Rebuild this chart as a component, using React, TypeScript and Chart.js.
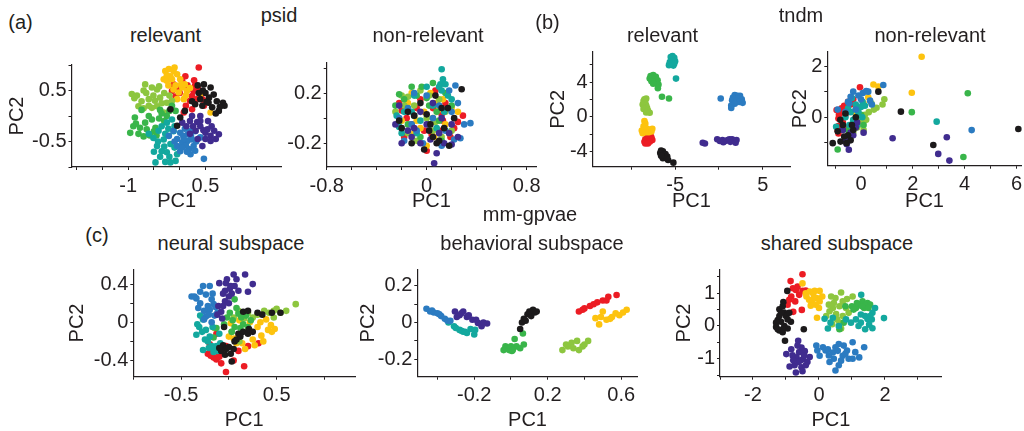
import React, { useEffect, useRef } from 'react';
import { Chart, registerables } from 'chart.js';

Chart.register(...registerables);

type Pt = [number, number];

const FONT = '"Liberation Sans", Arial, Helvetica, sans-serif';
const INK = '#231f20';

// class order: red, yellow, light green, green, teal, blue, purple, black
const CLASS_COLORS = ['#ec1c24', '#fdc30f', '#8dc63f', '#39b54a', '#13a89e', '#2b7bc1', '#402c8f', '#1c1a1b'];

// ---------- (a) psid ----------
const psidRelevant: Pt[][] = [
  [[0.37,0.95],[0.11,0.78],[-0.05,0.56],[0.18,0.54],[0.27,0.49],[0.40,0.46],[-0.15,0.49],[-0.12,0.62],[0.24,0.39],[0.34,0.33],[0.47,0.2],[0.24,0.13],[0.08,0.07],[0.43,0.43],[0.05,0.68],[0.2,0.3],[0.3,0.6],
   [0.15,0.6],[0.0,0.45],[0.35,0.55],[0.12,0.2],[-0.08,0.38],[0.28,0.7],[0.45,0.32]],
  [[-0.28,0.88],[-0.21,0.92],[-0.12,0.88],[-0.31,0.72],[-0.25,0.69],[-0.15,0.72],[-0.05,0.82],[0.01,0.72],[0.05,0.56],[-0.02,0.46],[-0.05,0.33],[0.08,0.33],[0.14,0.49],[0.40,0.43],[0.60,0.07],[-0.18,0.78],[0.1,0.62],[-0.08,0.6],
   [-0.25,0.8],[-0.1,0.95],[0.03,0.62],[-0.22,0.6],[0.12,0.4],[-0.12,0.52],[0.2,0.55]],
  [[-0.93,0.43],[-0.83,0.4],[-0.67,0.62],[-0.54,0.56],[-0.44,0.52],[-0.51,0.4],[-0.38,0.36],[-0.6,0.33],[-0.74,0.29],[-0.44,0.19],[-0.25,0.26],[-0.31,0.07],[-0.54,0.16],[-0.8,0.19],[-0.65,0.45],[-0.2,0.4],[-0.35,0.25],
   [-0.7,0.5],[-0.88,0.35],[-0.48,0.3],[-0.3,0.45],[-0.6,0.2],[-0.15,0.3],[-0.4,0.58],[-0.7,0.15]],
  [[-0.96,-0.33],[-0.9,-0.2],[-0.87,-0.03],[-0.77,-0.23],[-0.64,-0.26],[-0.74,0.12],[-0.54,-0.07],[-0.47,-0.23],[-0.58,-0.38],[-0.25,0.0],[-0.08,0.1],[-0.38,0.12],[-0.67,-0.13],[-0.15,0.2],[-0.4,-0.05],[-0.8,-0.35],
   [-0.7,-0.4],[-0.5,-0.3],[-0.3,-0.1],[-0.6,0.0],[-0.85,-0.15],[-0.35,0.05],[-0.2,0.1],[-0.45,-0.38]],
  [[-0.47,-0.91],[-0.28,-0.9],[-0.18,-0.91],[-0.08,-0.88],[-0.25,-0.71],[-0.35,-0.69],[-0.44,-0.59],[-0.51,-0.43],[-0.41,-0.29],[-0.35,-0.2],[-0.25,-0.13],[-0.15,-0.07],[-0.31,-0.46],[-0.18,-0.55],[-0.05,-0.75],[-0.6,-0.35],[-0.12,-0.3],
   [-0.38,-0.8],[-0.2,-0.8],[-0.42,-0.5],[-0.28,-0.35],[-0.22,-0.25],[-0.1,-0.2],[-0.3,-0.6],[-0.5,-0.7],[-0.1,-0.62]],
  [[-0.12,-0.29],[0.01,-0.33],[0.07,-0.39],[0.16,-0.36],[0.24,-0.46],[0.15,-0.49],[0.05,-0.52],[-0.05,-0.59],[0.01,-0.69],[0.18,-0.65],[0.27,-0.59],[0.21,-0.75],[0.47,-0.84],[0.4,-0.42],[-0.21,-0.39],[0.1,-0.25],[0.3,-0.3],[0.12,-0.58],
   [-0.05,-0.45],[0.08,-0.45],[0.22,-0.4],[0.32,-0.5],[0.05,-0.62],[0.14,-0.7],[-0.1,-0.5],[0.3,-0.68],[0.2,-0.3]],
  [[0.24,0.0],[0.4,-0.1],[0.13,-0.2],[0.26,-0.2],[0.40,-0.2],[0.5,-0.33],[0.6,-0.39],[0.76,-0.36],[0.67,-0.29],[0.6,-0.49],[0.44,-0.59],[0.05,-0.13],[0.4,0.0],[0.54,-0.26],[0.31,-0.29],[0.55,-0.1],
   [0.2,-0.1],[0.34,-0.12],[0.46,-0.28],[0.7,-0.45],[0.35,-0.45],[0.5,-0.45],[0.62,-0.2],[0.2,-0.35]],
  [[0.47,0.62],[0.6,0.56],[0.37,0.45],[0.4,0.33],[0.57,0.36],[0.72,0.29],[0.84,0.26],[0.87,0.2],[0.76,0.1],[0.56,0.26],[0.3,0.23],[-0.18,0.13],[-0.05,-0.19],[0.01,-0.03],[0.24,0.29],[0.63,0.17],[0.5,0.45],
   [0.45,0.5],[0.52,0.28],[0.66,0.42],[0.78,0.18],[0.44,0.2],[0.35,0.6],[0.7,0.05],[0.1,0.1]],
];

const psidNonRelevant: Pt[][] = [
  [[0.0,-0.26],[0.29,0.02],[-0.2,0.06],[-0.12,-0.05],[0.05,0.08],[0.15,0.12],[0.1,-0.1],[0.22,-0.08],[-0.05,0.15],[0.13,-0.02],[-0.16,0.0],[0.04,-0.13],[0.25,-0.03],[-0.08,0.08],
   [-0.18,-0.15],[0.07,0.22],[0.19,-0.15],[-0.02,-0.1],[0.12,0.03],[-0.22,0.12]],
  [[-0.05,-0.08],[0.1,0.07],[0.2,0.08],[-0.15,0.12],[0.03,0.2],[-0.1,-0.12],[0.15,-0.05],[0.06,-0.15],[-0.02,0.05],[0.18,-0.12],[-0.2,-0.02],[0.08,0.12],
   [0.0,-0.22],[0.13,0.15],[-0.08,-0.02],[0.25,0.05],[-0.12,0.2],[0.05,0.0]],
  [[-0.2,0.18],[-0.15,0.17],[-0.22,-0.03],[0.02,0.18],[0.1,0.15],[-0.08,-0.18],[0.05,-0.1],[-0.1,0.1],[0.12,-0.15],[-0.18,0.1],[0.0,0.0],
   [-0.05,0.22],[0.2,-0.1],[-0.15,-0.12],[0.15,0.05],[-0.25,0.05],[0.07,-0.03]],
  [[-0.04,0.25],[-0.22,0.19],[-0.12,0.25],[-0.18,0.15],[0.0,0.16],[-0.1,0.02],[0.08,0.05],[0.15,0.2],[-0.05,-0.15],[0.1,-0.02],[-0.25,0.1],[0.02,-0.05],
   [0.05,0.28],[-0.15,-0.05],[0.2,0.1],[-0.08,0.18],[0.12,-0.18],[0.02,0.1]],
  [[0.12,0.39],[0.13,0.31],[0.11,0.27],[0.12,0.22],[0.15,0.27],[-0.24,0.02],[-0.22,-0.07],[0.17,0.18],[-0.12,0.05],[0.05,0.1],[-0.05,-0.02],[0.08,-0.08],[-0.18,0.05],[0.2,0.15],[0.1,0.25],
   [-0.1,0.18],[0.0,0.25],[-0.2,-0.12],[0.14,0.05],[-0.08,-0.12]],
  [[0.23,0.26],[0.35,-0.04],[0.27,-0.16],[-0.15,0.08],[0.1,0.1],[0.2,0.05],[-0.08,-0.1],[0.05,0.0],[0.22,-0.17],[-0.12,-0.05],[0.3,-0.05],[-0.03,-0.2],[0.15,-0.1],[0.18,0.22],
   [-0.22,0.0],[0.0,0.18],[-0.1,0.2],[0.12,-0.22],[0.25,0.12],[-0.18,-0.18]],
  [[0.06,-0.36],[0.08,-0.28],[0.2,-0.21],[-0.22,0.1],[-0.1,-0.08],[0.0,-0.05],[-0.15,-0.1],[0.1,-0.12],[0.05,0.12],[0.14,-0.2],[-0.05,-0.2],[0.2,-0.05],[-0.12,-0.15],[0.03,-0.17],
   [-0.2,-0.2],[0.12,0.0],[-0.25,-0.05],[0.18,-0.12],[-0.05,0.05],[0.25,-0.15]],
  [[0.28,0.23],[-0.2,-0.08],[0.0,0.03],[-0.1,0.02],[0.12,0.08],[0.05,-0.15],[0.17,0.08],[-0.05,0.12],[0.1,-0.18],[-0.15,0.05],[0.22,0.0],[0.02,-0.1],[0.08,-0.2],
   [-0.02,-0.25],[0.14,-0.08],[-0.12,-0.2],[0.07,0.18],[-0.22,-0.02],[0.18,-0.22],[0.03,-0.05]],
];

// ---------- (b) tndm ----------
const tndmRelevant: Pt[][] = [
  [[-8.0,-2.1],[-7.8,-2.2],[-8.2,-2.4],[-7.7,-2.4],[-8.4,-2.6],[-8.0,-2.6],[-7.6,-2.7],[-8.5,-2.9],[-8.2,-2.9],[-7.9,-2.9],[-8.4,-3.1],[-8.1,-3.1]],
  [[-8.5,-0.5],[-8.4,-0.8],[-8.6,-1.1],[-8.8,-1.6],[-8.5,-1.5],[-8.2,-1.4],[-7.9,-1.5],[-7.6,-1.4],[-8.0,-1.8],[-8.3,-1.8],[-8.7,-1.9],[-7.7,-1.7]],
  [[-8.5,2.0],[-8.3,2.1],[-8.6,1.8],[-8.4,1.6],[-8.7,1.4],[-8.3,1.3],[-8.5,1.1],[-8.2,1.0],[-8.6,0.9],[-8.1,0.7],[-8.3,0.5],[-7.9,0.45]],
  [[-7.8,4.7],[-7.5,4.8],[-7.2,4.6],[-7.9,4.4],[-7.6,4.4],[-7.3,4.3],[-7.0,4.2],[-7.7,4.1],[-7.4,4.0],[-7.1,3.9],[-6.9,3.7],[-7.5,3.8],[-6.97,3.3],[-6.5,2.3],[-5.7,2.1]],
  [[-5.5,6.9],[-5.3,7.0],[-5.1,6.8],[-5.4,6.6],[-5.2,6.5],[-5.6,6.3],[-5.3,6.2],[-5.0,6.4],[-5.5,6.0],[-5.2,5.9],[-5.4,6.1],[-5.1,6.1],[-5.7,5.95],[-4.9,4.4]],
  [[1.8,2.5],[2.1,2.4],[2.4,2.4],[1.6,2.2],[1.9,2.1],[2.2,2.1],[2.6,2.0],[1.5,1.9],[2.0,1.8],[2.3,1.7],[2.7,1.6],[1.8,1.5],[1.4,1.3],[1.4,1.0],[0.2,2.1]],
  [[-0.2,-2.6],[0.1,-2.8],[0.4,-2.7],[0.7,-2.8],[1.0,-2.7],[1.3,-2.9],[1.5,-2.6],[1.7,-2.8],[2.0,-2.7],[1.2,-2.6],[0.5,-2.95],[1.9,-3.0],[-1.85,-3.0],[-1.6,-3.1]],
  [[-6.6,-3.9],[-6.4,-4.0],[-6.7,-4.2],[-6.3,-4.3],[-6.1,-4.3],[-6.5,-4.5],[-6.2,-4.6],[-5.9,-4.6],[-6.4,-4.8],[-6.0,-4.8],[-5.8,-5.0],[-6.6,-4.5],[-5.2,-5.3]],
];

const tndmNonRelevant: Pt[][] = [
  [[-0.94,0.28],[-0.87,-0.05],[-0.87,-0.34],[-0.87,-0.63],[-0.04,1.17],[-0.6,0.1],[-0.7,-0.2],[-0.5,0.6],[-0.4,0.5],[-0.65,0.45],[-0.3,0.7],[-0.8,0.2],[-0.55,-0.4],[-0.9,-0.5],[-0.75,0.35],[-0.85,0.1]],
  [[2.34,2.36],[1.96,0.96],[0.48,1.28],[0.67,1.2],[0.28,0.78],[-0.2,0.2],[0.1,0.55],[-0.1,0.35]],
  [[0.9,0.7],[0.83,0.5],[0.6,0.37],[0.15,0.1],[0.2,-0.1],[-0.1,-0.3],[-0.3,-0.6],[0.0,-0.2],[0.3,0.2],[-0.4,-0.8],[0.1,-0.5],[-0.2,0.0],[0.5,0.3],[-0.05,-0.15],[0.4,0.55],[-0.15,-0.4]],
  [[4.12,0.94],[1.96,0.2],[3.95,-1.55],[-0.9,-1.26],[0.0,0.1],[-0.3,-0.2],[0.1,-0.3],[-0.5,-0.5],[-0.2,0.3]],
  [[2.92,-0.17],[0.06,0.6],[-0.96,-0.37],[-0.2,0.5],[-0.4,0.2],[0.0,0.4],[-0.6,0.0],[-0.3,-0.1],[0.05,0.0],[-0.15,-0.3],[-0.5,0.35],[-0.35,0.75],[-0.1,0.2],[-0.45,-0.3],[0.15,0.45]],
  [[0.86,1.26],[0.28,1.0],[0.07,0.95],[-0.3,1.0],[0.42,0.5],[4.27,-0.5],[-0.4,0.8],[-0.5,0.6],[-0.9,0.3],[0.2,1.02],[-0.2,0.3],[-0.6,0.2],[-0.1,0.85],[-0.45,0.55],[0.0,0.7],[0.35,0.65]],
  [[1.22,-0.82],[3.31,-0.78],[2.98,-1.43],[3.41,-1.69],[-0.47,-1.27],[-0.4,-0.6],[-0.2,-0.4],[-0.6,-0.9],[-0.7,-0.5],[0.1,-0.6],[-0.3,-0.7],[-0.55,-1.05],[-0.15,-0.2]],
  [[1.54,0.22],[6.07,-0.46],[2.79,-1.08],[-1.09,-1.01],[-0.79,-0.95],[-0.56,-1.01],[0.67,1.0],[-0.7,-0.3],[-0.5,-0.7],[-0.3,-0.5],[-0.8,-0.1],[-0.2,0.0],[-0.6,0.15],[-0.9,-0.55],[-0.4,-0.9],[-0.65,-0.75],[-0.35,-0.3]],
];

// ---------- (c) mm-gpvae ----------
const gpvaeNeural: Pt[][] = [
  [[-0.13,-0.12],[-0.11,-0.32],[-0.22,-0.33],[-0.16,-0.37],[-0.13,-0.39],[-0.03,-0.52],[0.16,-0.46],[0.31,-0.22],[-0.03,-0.25],[-0.19,-0.35],[-0.08,-0.43],[0.2,-0.25],
   [-0.18,-0.28],[-0.1,-0.36],[0.05,-0.4],[0.1,-0.3],[-0.2,-0.23]],
  [[0.0,-0.15],[0.05,-0.17],[0.1,-0.15],[0.17,-0.28],[0.27,-0.24],[0.34,-0.14],[0.41,-0.08],[0.48,-0.07],[0.39,0.03],[0.33,0.0],[0.11,0.02],[0.02,-0.01],[0.2,-0.1],[0.44,-0.03],[0.08,-0.22],
   [0.25,-0.18],[0.3,-0.05],[0.14,-0.22],[0.45,-0.1],[0.22,0.0],[0.36,-0.2]],
  [[0.7,0.19],[0.47,0.12],[0.42,0.1],[0.47,0.05],[0.54,0.1],[0.16,0.04],[0.11,-0.2],[0.25,0.05],[0.03,-0.1],[-0.15,-0.06],[0.37,0.12],[0.1,0.12],
   [0.5,0.14],[0.3,0.08],[0.6,0.12],[0.05,0.05],[0.2,0.1]],
  [[0.06,0.24],[0.01,0.1],[0.04,0.02],[0.06,-0.05],[0.15,-0.02],[0.18,0.07],[0.1,0.09],[-0.16,-0.16],[-0.13,-0.06],[0.23,0.02],[-0.02,0.05],[0.12,-0.06],
   [0.08,0.15],[0.13,0.05],[-0.05,-0.02],[0.2,-0.05],[0.03,-0.1]],
  [[-0.27,0.03],[-0.31,-0.05],[-0.34,-0.13],[-0.24,-0.08],[-0.22,-0.2],[-0.13,-0.25],[-0.27,-0.29],[-0.16,-0.31],[-0.09,-0.22],[-0.2,-0.15],[-0.3,0.07],[-0.17,-0.05],[-0.1,-0.12],
   [-0.33,-0.02],[-0.25,-0.18],[-0.18,-0.25],[-0.12,-0.3],[-0.28,-0.1],[-0.21,-0.27]],
  [[-0.27,0.38],[-0.2,0.38],[-0.39,0.27],[-0.34,0.25],[-0.32,0.15],[-0.24,0.29],[-0.18,0.24],[-0.22,0.17],[-0.16,0.19],[-0.2,0.13],[-0.15,0.07],[-0.24,0.06],[-0.18,0.0],[-0.26,0.03],[-0.36,0.27],[-0.12,0.1],
   [-0.3,0.2],[-0.26,0.12],[-0.14,0.16],[-0.21,0.08],[-0.3,0.32],[-0.17,0.3]],
  [[0.05,0.5],[0.17,0.5],[0.25,0.4],[0.2,0.32],[-0.1,0.41],[-0.03,0.41],[-0.04,0.33],[0.01,0.35],[0.03,0.3],[0.0,0.27],[-0.04,0.22],[-0.06,0.17],[-0.08,0.11],[-0.07,0.04],[-0.11,0.17],[0.02,0.38],
   [0.08,0.45],[-0.02,0.45],[0.06,0.38],[-0.06,0.3],[0.0,0.2],[0.1,0.33],[-0.12,0.08]],
  [[-0.06,-0.24],[-0.03,-0.28],[-0.08,-0.3],[0.0,-0.26],[0.03,-0.41],[0.1,-0.12],[0.15,-0.1],[0.2,-0.12],[0.21,-0.07],[0.15,0.11],[0.2,0.12],[0.3,0.1],[0.54,0.1],[0.06,-0.2],[-0.05,-0.05],[0.02,-0.33],
   [-0.1,-0.27],[0.05,-0.28],[0.08,-0.18],[0.25,-0.1],[0.12,-0.15],[0.35,0.08],[0.45,0.1],[-0.04,-0.34]],
];

const gpvaeBehavioral: Pt[][] = [
  [[0.37,0.06],[0.4,0.077],[0.43,0.09],[0.47,0.11],[0.5,0.12],[0.53,0.14],[0.575,0.15],[0.52,0.12],[0.45,0.1],[0.39,0.07]],
  [[0.5,0.06],[0.46,0.024],[0.48,-0.01],[0.52,0.015],[0.55,0.03],[0.59,0.04],[0.63,0.07],[0.57,0.05],[0.61,0.055],[0.49,0.03],[0.54,0.02]],
  [[0.28,-0.15],[0.31,-0.13],[0.34,-0.14],[0.36,-0.1],[0.39,-0.13],[0.42,-0.1],[0.3,-0.12],[0.37,-0.15],[0.33,-0.11],[0.4,-0.12]],
  [[-0.03,-0.13],[-0.01,-0.15],[0.005,-0.155],[0.03,-0.13],[0.02,-0.09],[0.065,-0.06],[0.07,-0.12],[0.05,-0.14],[-0.02,-0.14],[0.0,-0.13],[0.01,-0.15],[-0.04,-0.15]],
  [[-0.34,0.0],[-0.31,-0.02],[-0.28,-0.04],[-0.26,-0.05],[-0.24,-0.057],[-0.22,-0.035],[-0.2,-0.065],[-0.195,-0.04],[-0.3,-0.03],[-0.27,-0.045],[-0.25,-0.05]],
  [[-0.46,0.075],[-0.44,0.06],[-0.42,0.055],[-0.4,0.05],[-0.38,0.035],[-0.36,0.02],[-0.345,0.01],[-0.33,0.01],[-0.39,0.045],[-0.43,0.065]],
  [[-0.305,0.06],[-0.28,0.04],[-0.24,0.03],[-0.21,0.015],[-0.18,-0.002],[-0.16,-0.02],[-0.13,-0.005],[-0.295,0.03],[-0.26,0.06],[-0.23,0.04],[-0.19,0.015],[-0.27,0.05],[-0.15,0.0]],
  [[0.06,0.0],[0.05,-0.035],[0.07,0.02],[0.09,0.045],[0.12,0.065],[0.13,0.055],[0.11,0.035],[0.08,0.01],[0.12,0.07],[0.1,0.06],[0.14,0.06]],
];

const gpvaeShared: Pt[][] = [
  [[-0.5,1.58],[-0.86,1.37],[-0.79,1.15],[-0.84,0.9],[-0.95,0.65],[-0.7,1.1],[-0.5,1.07],[-0.4,1.08],[-0.52,0.49],[-0.78,0.43],[-0.9,0.8],[-0.65,1.2],[-0.6,0.95],[-0.72,0.75]],
  [[-0.5,1.3],[-0.13,1.07],[0.02,1.07],[-0.38,0.9],[-0.22,0.75],[-0.07,0.85],[0.02,0.75],[-0.18,1.0],[-0.06,0.25],[-0.3,0.8],[-0.4,1.0],[-0.1,0.65],
   [-0.28,1.05],[-0.15,0.88],[0.1,0.9],[-0.25,0.62],[0.0,0.55]],
  [[0.37,0.9],[0.67,1.02],[0.62,0.6],[0.42,0.55],[0.32,0.45],[0.22,0.3],[0.52,0.36],[0.72,0.3],[0.82,0.55],[0.62,0.1],[0.67,-0.08],[1.02,0.9],[0.5,0.85],[0.9,0.4],
   [0.45,0.7],[0.72,0.75],[0.55,0.2],[0.3,0.65],[0.85,0.82],[0.4,0.05]],
  [[1.22,0.66],[1.32,0.75],[1.47,0.7],[1.12,0.55],[1.37,0.55],[1.55,0.65],[0.62,-0.1],[0.8,0.6],[1.0,0.6],[1.4,0.62],[1.3,0.6],[1.15,0.7],[1.5,0.55],[1.05,0.5],[0.75,0.1]],
  [[1.28,0.95],[1.97,0.24],[1.62,0.4],[1.47,0.21],[1.27,0.35],[1.12,0.2],[1.27,0.1],[1.52,0.04],[1.62,-0.07],[0.97,0.1],[0.82,0.2],[0.17,0.22],[0.42,0.25],[0.27,-0.08],[1.6,0.2],
   [1.4,0.3],[1.55,0.3],[1.2,0.0],[1.4,-0.1],[0.6,0.0],[1.7,0.55],[0.35,0.1]],
  [[-0.08,-0.6],[0.12,-0.65],[0.27,-0.71],[0.42,-0.81],[0.57,-0.76],[0.72,-0.91],[1.02,-0.5],[1.37,-0.65],[1.22,-0.96],[1.02,-1.0],[0.5,-1.36],[0.32,-1.1],[0.02,-0.91],[0.67,-1.06],[0.85,-0.75],[0.6,-0.55],[0.45,-1.0],
   [0.2,-0.75],[0.5,-0.65],[0.8,-0.85],[0.9,-1.0],[0.3,-0.9],[0.6,-1.2],[1.1,-0.8],[0.75,-0.6],[-0.05,-0.75]],
  [[-0.63,-0.45],[-0.84,-0.71],[-0.99,-0.86],[-0.53,-0.66],[-0.43,-0.77],[-0.28,-0.95],[-0.48,-1.01],[-0.68,-0.96],[-0.89,-1.24],[-0.74,-1.2],[-0.53,-1.26],[-0.7,-1.42],[-0.6,-0.8],[-0.35,-1.1],[-0.55,-1.05],
   [-0.8,-0.9],[-0.45,-0.9],[-0.62,-1.1],[-0.4,-1.2],[-0.78,-1.05],[-0.5,-1.38],[-0.65,-0.6]],
  [[-0.96,1.07],[-1.08,0.73],[-1.2,0.51],[-1.06,0.41],[-1.25,0.18],[-1.15,0.13],[-1.3,-0.03],[-1.2,-0.14],[-1.1,-0.19],[-1.03,-0.45],[-0.95,-0.08],[-0.46,-0.1],[-0.85,0.13],[-1.0,0.3],[-1.2,0.3],[-1.05,0.0],
   [-1.1,0.6],[-1.15,0.4],[-1.3,0.1],[-1.1,-0.1],[-0.9,0.4],[-1.25,-0.1],[-0.95,0.2]],
];

// ---------- tick labels ----------
const psidRelXTicks = ['-1', '0.5'];
const psidRelYTicks = ['0.5', '-0.5'];
const psidNonXTicks = ['-0.8', '0', '0.8'];
const psidNonYTicks = ['0.2', '-0.2'];
const tndmRelXTicks = ['-5', '5'];
const tndmRelYTicks = ['4', '0', '-4'];
const tndmNonXTicks = ['0', '2', '4', '6'];
const tndmNonYTicks = ['2', '0'];
const neuralXTicks = ['-0.5', '0.5'];
const neuralYTicks = ['0.4', '0', '-0.4'];
const behavXTicks = ['-0.2', '0.2', '0.6'];
const behavYTicks = ['0.2', '0', '-0.2'];
const sharedXTicks = ['-2', '0', '2'];
const sharedYTicks = ['1', '0', '-1'];

interface AxisSpec { min: number; max: number; step: number; labels: string[] }
interface PanelSpec {
  classes: Pt[][];
  box: { l: number; t: number; r: number; b: number };
  pc2X: number | null;
  pc1Y: number;
  x: AxisSpec;
  y: AxisSpec;
}

const PANELS: PanelSpec[] = [
  { classes: psidRelevant, box: { l: 71.5, t: 65, r: 281.7, b: 167 }, pc2X: 17, pc1Y: 201,
    x: { min: -2.1, max: 1.98, step: 0.5, labels: psidRelXTicks }, y: { min: -1, max: 1, step: 0.5, labels: psidRelYTicks } },
  { classes: psidNonRelevant, box: { l: 326.7, t: 63, r: 536, b: 167 }, pc2X: null, pc1Y: 201,
    x: { min: -0.8, max: 0.875, step: 0.2, labels: psidNonXTicks }, y: { min: -0.39, max: 0.44, step: 0.2, labels: psidNonYTicks } },
  { classes: tndmRelevant, box: { l: 592.7, t: 52, r: 790, b: 166.7 }, pc2X: 558, pc1Y: 201,
    x: { min: -14.4, max: 8.1, step: 5, labels: tndmRelXTicks }, y: { min: -5.77, max: 7.47, step: 2, labels: tndmRelYTicks } },
  { classes: tndmNonRelevant, box: { l: 827.3, t: 51.7, r: 1021.7, b: 165.7 }, pc2X: 800, pc1Y: 201,
    x: { min: -1.3, max: 6.2, step: 1, labels: tndmNonXTicks }, y: { min: -1.89, max: 2.56, step: 1, labels: tndmNonYTicks } },
  { classes: gpvaeNeural, box: { l: 133.3, t: 269.3, r: 355, b: 376.7 }, pc2X: 77, pc1Y: 420,
    x: { min: -1.0, max: 1.32, step: 0.5, labels: neuralXTicks }, y: { min: -0.57, max: 0.555, step: 0.2, labels: neuralYTicks } },
  { classes: gpvaeBehavioral, box: { l: 417.3, t: 269.3, r: 637.7, b: 376.7 }, pc2X: 368, pc1Y: 420,
    x: { min: -0.51, max: 0.69, step: 0.2, labels: behavXTicks }, y: { min: -0.295, max: 0.29, step: 0.1, labels: behavYTicks } },
  { classes: gpvaeShared, box: { l: 720, t: 269.3, r: 941.7, b: 376.7 }, pc2X: 684, pc1Y: 420,
    x: { min: -3.0, max: 3.72, step: 1, labels: sharedXTicks }, y: { min: -1.55, max: 1.73, step: 0.5, labels: sharedYTicks } },
];

const TEXTS: { text: string; x: number; y: number }[] = [
  { text: '(a)', x: 20.5, y: 21.5 },
  { text: 'psid', x: 279, y: 15 },
  { text: 'relevant', x: 165.5, y: 35 },
  { text: 'non-relevant', x: 428, y: 35 },
  { text: '(b)', x: 547.5, y: 21.5 },
  { text: 'tndm', x: 801, y: 15 },
  { text: 'relevant', x: 662.5, y: 35 },
  { text: 'non-relevant', x: 930, y: 35 },
  { text: 'mm-gpvae', x: 530, y: 214 },
  { text: '(c)', x: 97, y: 235 },
  { text: 'neural subspace', x: 231, y: 243 },
  { text: 'behavioral subspace', x: 532, y: 243 },
  { text: 'shared subspace', x: 837, y: 243 },
];

const tickValues = (ax: AxisSpec) => {
  const out: number[] = [];
  const start = Math.ceil(ax.min / ax.step - 1e-9);
  const end = Math.floor(ax.max / ax.step + 1e-9);
  for (let k = start; k <= end; k++) out.push(Math.round(k * ax.step * 1e6) / 1e6);
  return out;
};

const tickFormatter = (labels: string[]) => (v: number | string) => {
  const n = Number(v);
  const hit = labels.find((s) => Math.abs(parseFloat(s) - n) < 1e-6);
  return hit ?? '';
};

function ScatterPanel({ spec }: { spec: PanelSpec }) {
  const ref = useRef<HTMLCanvasElement>(null);
  const { l, t, r, b } = spec.box;
  const left = Math.round(spec.pc2X !== null ? spec.pc2X - 12 : l - 62);
  const top = Math.round(t - 10);
  const width = Math.round(r + 16 - left);
  const height = Math.round(spec.pc1Y + 12 - top);
  const wY = l - left;
  const padTop = t - top;
  const padRight = left + width - r;
  const hX = top + height - b;

  useEffect(() => {
    const canvas = ref.current;
    if (!canvas) return;
    const font = { family: FONT, size: 20 };
    const n = spec.classes.length;
    const chart = new Chart(canvas, {
      type: 'scatter',
      data: {
        datasets: spec.classes.map((pts, i) => ({
          data: pts.map(([x, y]) => ({ x, y })),
          backgroundColor: CLASS_COLORS[i],
          borderWidth: 0,
          pointRadius: 3.3,
          pointHoverRadius: 3.3,
          clip: false,
          order: n - 1 - i,
        })),
      },
      options: {
        responsive: false,
        animation: false,
        events: [],
        layout: { padding: { left: 0, top: padTop, right: padRight, bottom: 0 }, autoPadding: false },
        plugins: { legend: { display: false }, tooltip: { enabled: false }, title: { display: false } },
        scales: {
          x: {
            type: 'linear',
            position: 'bottom',
            min: spec.x.min,
            max: spec.x.max,
            afterFit: (s: any) => { s.height = hX; s.paddingLeft = 0; s.paddingRight = 0; },
            afterBuildTicks: (s: any) => { s.ticks = tickValues(spec.x).map((value) => ({ value })); },
            ticks: { autoSkip: false, maxRotation: 0, minRotation: 0, padding: 4, color: INK, font, callback: tickFormatter(spec.x.labels) },
            grid: { display: true, drawOnChartArea: false, drawTicks: true, tickLength: 3, color: INK, lineWidth: 1 },
            border: { display: true, color: INK, width: 1.2 },
            title: { display: true, text: 'PC1', color: INK, font, padding: 0 },
          },
          y: {
            type: 'linear',
            position: 'left',
            min: spec.y.min,
            max: spec.y.max,
            afterFit: (s: any) => { s.width = wY; s.paddingTop = 0; s.paddingBottom = 0; },
            afterBuildTicks: (s: any) => { s.ticks = tickValues(spec.y).map((value) => ({ value })); },
            ticks: { autoSkip: false, padding: 2, color: INK, font, callback: tickFormatter(spec.y.labels) },
            grid: { display: true, drawOnChartArea: false, drawTicks: true, tickLength: 3, color: INK, lineWidth: 1 },
            border: { display: true, color: INK, width: 1.2 },
            title: { display: spec.pc2X !== null, text: 'PC2', color: INK, font, padding: 0 },
          },
        },
      } as any,
    });
    return () => chart.destroy();
  }, []);

  return (
    <canvas
      ref={ref}
      width={width}
      height={height}
      style={{ position: 'absolute', left, top, width, height }}
    />
  );
}

export default function App() {
  return (
    <div style={{ position: 'absolute', left: 0, top: 0, width: 1024, height: 431, overflow: 'hidden', background: '#fff', fontFamily: FONT }}>
      {PANELS.map((p, i) => (
        <ScatterPanel key={i} spec={p} />
      ))}
      {TEXTS.map((tx, i) => (
        <div
          key={i}
          style={{
            position: 'absolute',
            left: tx.x,
            top: tx.y,
            transform: 'translate(-50%, -50%)',
            fontSize: 20,
            lineHeight: 1,
            color: INK,
            whiteSpace: 'nowrap',
          }}
        >
          {tx.text}
        </div>
      ))}
    </div>
  );
}
